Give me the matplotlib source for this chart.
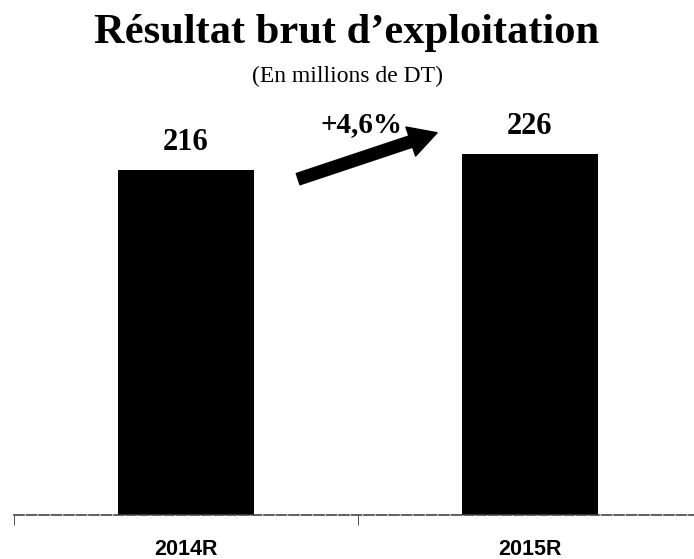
import matplotlib
matplotlib.use("Agg")
from matplotlib import pyplot as plt

categories = ["2014R", "2015R"]
values = [216, 226]
growth_label = "+4,6%"
title = "Résultat brut d\u2019exploitation"
subtitle = "(En millions de DT)"

W, H = 694, 559
fig = plt.figure(figsize=(W / 100, H / 100), dpi=100)
ax = fig.add_axes([14 / W, 44 / H, 688 / W, 515 / H])

x = list(range(len(categories)))
ax.bar(x, values, width=0.395, color="black")
ax.set_xlim(-0.5, 1.5)
ax.set_ylim(0, 322)

serif = ["Liberation Serif", "DejaVu Serif"]
for xi, v in zip(x, values):
    ax.text(xi, v + 12, str(v), ha="center", va="baseline", fontsize=22,
            fontweight="bold", family=serif)

# growth arrow between the bars
ax.annotate("", xy=(0.73, values[1] + 13), xytext=(0.326, values[0] - 6),
            arrowprops=dict(facecolor="black", edgecolor="black", width=8.5,
                            headwidth=22, headlength=20, shrink=0))
ax.text(0.51, values[0] + 28, growth_label, ha="center", va="center",
        fontsize=21, fontweight="bold", family=serif)

ax.set_xticks(x)
ax.set_xticklabels(categories, fontsize=15.5, fontweight="bold",
                   family=["Liberation Sans", "DejaVu Sans"])
ax.tick_params(axis="x", which="major", length=0, pad=17)
ax.set_xticks([-0.5, 0.5], minor=True)
ax.tick_params(axis="x", which="minor", length=7, direction="out", color="#333333")
ax.set_yticks([])
for s in ["top", "right", "left"]:
    ax.spines[s].set_visible(False)
ax.spines["bottom"].set_linestyle((0, (6, 1.5)))
ax.spines["bottom"].set_color("#444444")
ax.spines["bottom"].set_linewidth(1.2)

fig.text(0.5, 1 - 43 / H, title, ha="center", va="baseline", fontsize=30.6,
         fontweight="bold", family=serif)
fig.text(0.5, 1 - 76 / H, subtitle, ha="center", va="center", fontsize=17,
         family=serif)

fig.savefig("out.png", dpi=100)
